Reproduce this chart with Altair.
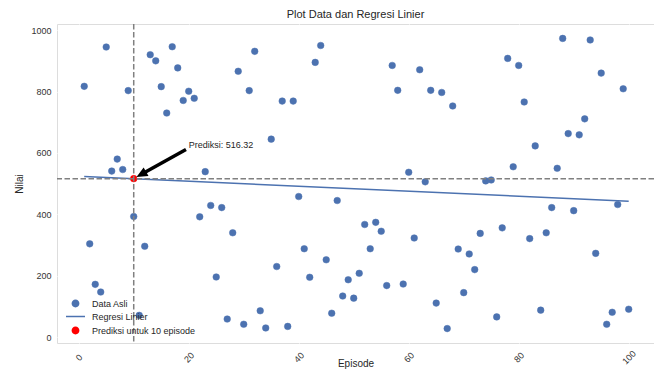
import math
import altair as alt
import pandas as pd

# ---------------- data ----------------
episodes = list(range(1, 101))
nilai = [
    817, 304, 172, 147, 945, 541, 580, 546, 803, 393,
    71, 296, 920, 900, 816, 730, 946, 877, 771, 801,
    778, 392, 539, 429, 196, 422, 59, 340, 866, 42,
    803, 931, 86, 30, 645, 230, 769, 35, 769, 458,
    288, 195, 895, 950, 252, 78, 445, 134, 187, 127,
    208, 367, 288, 374, 345, 168, 885, 804, 173, 537,
    323, 871, 506, 804, 111, 797, 28, 753, 287, 145,
    271, 220, 338, 509, 512, 66, 356, 908, 555, 885,
    766, 321, 623, 88, 340, 422, 550, 973, 663, 412,
    659, 711, 968, 273, 860, 42, 81, 432, 809, 91,
]
reg_x = [1, 100]
reg_y = [523.7, 442.7]
pred_x = [10]
pred_y = [516.32]
annot_offset = [10, 100]          # text position relative to the prediction
annot_text = "Prediksi: 516.32"
series_names = ["Data Asli", "Regresi Linier", "Prediksi untuk 10 episode"]
x_ticks = [0, 20, 40, 60, 80, 100]
y_ticks = [0, 200, 400, 600, 800, 1000]
x_domain = [-3.95, 104.6]
y_domain = [-19, 1020]

# ---------------- style ----------------
W, H = 597, 319
BLUE = "#4C72B0"
RED = "#FF0000"
BG = "#EAEAF2"
FONT = "Liberation Sans"
TXT = "#262626"

df_data = pd.DataFrame({"Episode": episodes, "Nilai": nilai, "series": series_names[0]})
df_reg = pd.DataFrame({"Episode": reg_x, "Nilai": reg_y, "series": series_names[1]})
df_pred = pd.DataFrame({"Episode": pred_x, "Nilai": pred_y, "series": series_names[2]})

# annotation geometry derived from the prediction and the text offset
tx = pred_x[0] + annot_offset[0]
ty = pred_y[0] + annot_offset[1]
shrink = 0.05
df_text = pd.DataFrame({"Episode": [tx], "Nilai": [ty], "label": [annot_text]})
df_shaft = pd.DataFrame({
    "x1": [tx - shrink * annot_offset[0]], "y1": [ty - shrink * annot_offset[1]],
    "x2": [pred_x[0] + 0.14 * annot_offset[0]], "y2": [pred_y[0] + 0.14 * annot_offset[1]],
})
df_head = pd.DataFrame({
    "Episode": [pred_x[0] + shrink * annot_offset[0]],
    "Nilai": [pred_y[0] + shrink * annot_offset[1]],
})
px_per_x = W / (x_domain[1] - x_domain[0])
px_per_y = H / (y_domain[1] - y_domain[0])
vx = -annot_offset[0] * px_per_x
vy = annot_offset[1] * px_per_y          # screen y goes down
head_angle = (math.degrees(math.atan2(vx, -vy)) + 360) % 360

xs = alt.Scale(domain=x_domain, nice=False, zero=False)
ys = alt.Scale(domain=y_domain, nice=False, zero=False)

x_axis = alt.Axis(values=x_ticks, title="Episode", labelAngle=-45, labelAlign="center",
                  labelBaseline="middle", labelPadding=14, ticks=False, tickSize=0,
                  domain=False, grid=True, gridColor="white", gridWidth=1, format="d",
                  labelFontSize=9, labelColor="#333333", labelFont=FONT,
                  titleFontSize=10, titleColor=TXT, titleFont=FONT, titleFontWeight="normal",
                  titleY=23, titleBaseline="alphabetic")
y_axis = alt.Axis(values=y_ticks, title="Nilai", ticks=False, tickSize=0, domain=False,
                  grid=True, gridColor="white", gridWidth=1, labelPadding=6, format="d",
                  labelFontSize=9, labelColor="#333333", labelFont=FONT,
                  titleFontSize=10, titleColor=TXT, titleFont=FONT, titleFontWeight="normal",
                  titlePadding=6)

X = alt.X("Episode:Q", scale=xs, axis=x_axis)
Y = alt.Y("Nilai:Q", scale=ys, axis=y_axis)

legend = alt.Legend(title=None, orient="none", legendX=14, legendY=275,
                    labelFontSize=9, labelFont=FONT, labelColor=TXT,
                    symbolSize=40, symbolStrokeWidth=1.5, rowPadding=2,
                    labelOffset=12, padding=0)

fill_enc = alt.Fill("series:N", scale=alt.Scale(domain=series_names, range=[BLUE, "transparent", RED]), legend=legend)
stroke_enc = alt.Stroke("series:N", scale=alt.Scale(domain=series_names, range=[BLUE, BLUE, RED]), legend=legend)
shape_enc = alt.Shape("series:N", scale=alt.Scale(domain=series_names, range=["circle", "M-3,0H3", "circle"]), legend=legend)

pts = alt.Chart(df_data).mark_point(filled=True, size=44, opacity=1, strokeWidth=0.5).encode(
    x=X, y=Y, fill=fill_enc, stroke=stroke_enc, shape=shape_enc)

line = alt.Chart(df_reg).mark_line(strokeWidth=1.5).encode(
    x="Episode:Q", y="Nilai:Q", stroke=stroke_enc)

pred = alt.Chart(df_pred).mark_point(filled=True, size=44, opacity=1, strokeWidth=0.5).encode(
    x="Episode:Q", y="Nilai:Q", fill=fill_enc, stroke=stroke_enc, shape=shape_enc)

vline = alt.Chart(df_pred).mark_rule(color="#808080", strokeDash=[5.5, 2.5], strokeWidth=1.5).encode(
    x="Episode:Q")
hline = alt.Chart(df_pred).mark_rule(color="#808080", strokeDash=[5.5, 2.5], strokeWidth=1.5).encode(
    y="Nilai:Q")

shaft = alt.Chart(df_shaft).mark_rule(color="black", strokeWidth=3.5, strokeCap="butt").encode(
    x="x1:Q", y="y1:Q", x2="x2:Q", y2="y2:Q")
head = alt.Chart(df_head).mark_point(filled=True, color="black", opacity=1, size=121,
                                     shape="M0,0L-0.9,2L0.9,2Z", angle=head_angle,
                                     strokeWidth=0).encode(x="Episode:Q", y="Nilai:Q")
text = alt.Chart(df_text).mark_text(align="left", baseline="alphabetic", fontSize=9,
                                    font=FONT, color=TXT).encode(
    x="Episode:Q", y="Nilai:Q", text="label:N")

chart = alt.layer(pts, line, pred, vline, hline, shaft, head, text).properties(
    width=W, height=H,
    title=alt.TitleParams("Plot Data dan Regresi Linier", fontSize=11, font=FONT,
                          fontWeight="normal", color=TXT, offset=3, anchor="middle"),
    autosize=alt.AutoSizeParams(type="none"),
    padding={"left": 49, "top": 16, "right": 0, "bottom": 26},
).configure_view(fill=BG, stroke=None).configure(background="white")

chart.save("out.html", embed_options={"renderer": "svg", "actions": False})
